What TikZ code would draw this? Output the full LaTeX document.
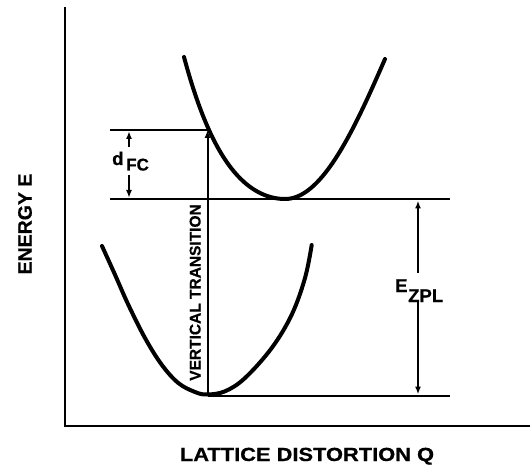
\documentclass[tikz,border=0pt]{standalone}
\usepackage{fontspec}
\usepackage{graphicx}
\setmainfont[BoldFeatures={FakeBold=0.6}]{Liberation Sans}
\usetikzlibrary{arrows.meta}
\begin{document}
\begin{tikzpicture}[x=1pt,y=-1pt,
  curve/.style={line width=4pt, line cap=round},
  level/.style={line width=1.9pt},
  axis/.style={line width=1.4pt},
  dim/.style={line width=2pt, -{Latex[length=8pt,width=6pt]}},
  lbl/.style={font=\bfseries\fontsize{18.5}{20}\selectfont, inner sep=0pt},
  sub/.style={font=\bfseries\fontsize{17}{19}\selectfont, inner sep=0pt}]
\useasboundingbox (0,0) rectangle (530,465);
% axes
\coordinate (Ytop) at (65,7);
\coordinate (O) at (65,426);
\coordinate (Xend) at (530,426);
\draw[axis] (Ytop) -- (O) -- (Xend);
% levels
\coordinate (dtopL) at (110,130);
\coordinate (dtopR) at (207.5,130);
\coordinate (midL) at (110,199);
\coordinate (midR) at (450,199);
\coordinate (botL) at (207.5,396);
\coordinate (botR) at (450,396);
\draw[level] (dtopL) -- (dtopR);
\draw[level] (midL) -- (midR);
\draw[level] (botL) -- (botR);
% curves
\draw[curve] plot[domain=-1.01:0, samples=50] ({285+100*\x},{199-93.7*(\x)*(\x)-44.6*(\x)*(\x)*(\x)*(\x)})
  -- plot[domain=0:1, samples=50] ({285+100*\x},{199-165*(\x)*(\x)+25*(\x)*(\x)*(\x)*(\x)});
\draw[curve] plot[smooth, tension=0.6] coordinates {(102,246) (115,274.7) (128.3,304.7) (145,338) (161.7,364.7) (178.3,383) (195,392) (207,394.5) (225,391.3) (245,378) (271.7,348) (291.7,314.7) (305,278) (311.7,245)};
% vertical transition
\draw[dim] (botL) -- (dtopR);
\node[lbl, font=\bfseries\fontsize{15.5}{17}\selectfont, rotate=90, anchor=base] (vt) at (200.5,292.5) {VERTICAL TRANSITION};
% d_FC
\coordinate (dA1) at (129,147);
\coordinate (dB1) at (129,131);
\coordinate (dA2) at (129,175);
\coordinate (dB2) at (129,198);
\draw[dim] (dA1) -- (dB1);
\draw[dim] (dA2) -- (dB2);
\node[lbl, anchor=base west] (d) at (112,165) {d};
\node[sub, anchor=base west] (fc) at (126,170.5) {FC};
% E_ZPL
\coordinate (eA1) at (418,273);
\coordinate (eB1) at (418,200.5);
\coordinate (eA2) at (418,300);
\coordinate (eB2) at (418,394.5);
\draw[dim] (eA1) -- (eB1);
\draw[dim] (eA2) -- (eB2);
\node[lbl, anchor=base west] (E) at (395,292) {E};
\node[lbl, anchor=base west] (zpl) at (408,302) {ZPL};
% axis labels
\node[lbl, font=\bfseries\fontsize{19.5}{21}\selectfont, rotate=90, anchor=base] (ey) at (31.7,224) {ENERGY E};
\node[lbl, font=\bfseries\fontsize{19}{21}\selectfont, anchor=base] (xl) at (307,461) {\scalebox{1.15}[1]{LATTICE DISTORTION Q}};
\end{tikzpicture}
\end{document}
